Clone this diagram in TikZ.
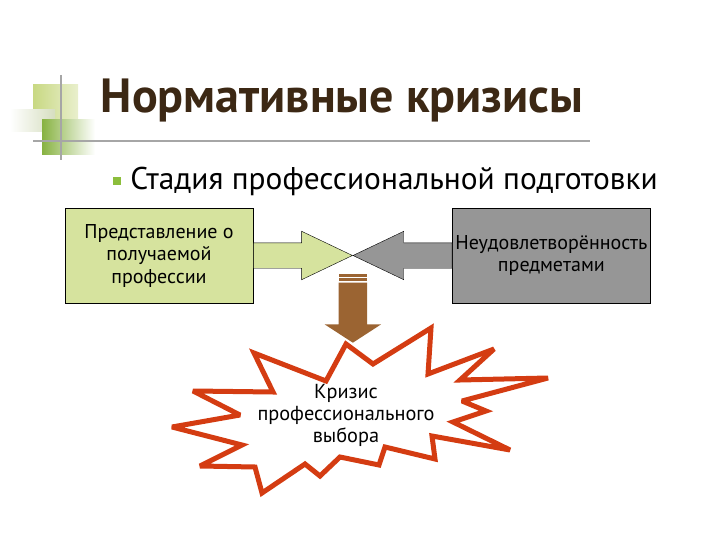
\documentclass[tikz,border=0pt]{standalone}
\usepackage{fontspec}
\setmainfont{PT Sans}
\usetikzlibrary{positioning,shapes.arrows}

\definecolor{titlebrown}{RGB}{60,40,20}
\definecolor{boxgreen}{RGB}{214,227,158}
\definecolor{boxgray}{RGB}{150,150,150}
\definecolor{dropbrown}{RGB}{155,100,50}
\definecolor{burstred}{RGB}{212,60,18}
\definecolor{bulletgreen}{RGB}{140,190,60}
\definecolor{decolime}{RGB}{200,216,130}
\definecolor{decogreen}{RGB}{135,178,65}
\definecolor{decopale}{RGB}{214,222,192}

\begin{document}
\begin{tikzpicture}[x=1pt,y=-1pt,node distance=8pt]
    \tikzset{box/.style={draw,rectangle,minimum height=95pt,align=center,inner sep=2pt,font=\fontsize{20}{22.5}\selectfont}}
    \tikzset{blockarrow/.style={draw,single arrow,single arrow head extend=11.5pt,single arrow tip angle=51,minimum height=99pt,inner sep=12.5pt}}
    \tikzset{droparrow/.style={fill=dropbrown,single arrow,shape border rotate=270,single arrow head extend=14pt,single arrow tip angle=114,minimum height=60pt,inner sep=14pt}}
    \tikzset{burst/.style={draw=burstred,fill=white,line width=5pt,line join=miter,miter limit=3}}
    \useasboundingbox (0,0) rectangle (720,540);

    % corner decoration
    \shade[left color=decolime,right color=decolime!40] (33,85) rectangle (78,123);
    \shade[left color=white,right color=decopale] (10,110) rectangle (55,132);
    \shade[left color=decogreen,right color=white] (42,120) rectangle (95,155);
    \draw[gray!70,line width=1.5pt] (61,75) -- (61,160);
    \draw[gray!70,line width=1.5pt] (33,141) -- (590,141);

    \node[text=titlebrown,font=\fontsize{48}{52}\bfseries\selectfont] (title) at (342,101) {Нормативные кризисы};
    \node[fill=bulletgreen,minimum size=8pt,inner sep=0pt] (dot) at (117,181) {};
    \node[inner sep=0pt,font=\fontsize{31.4}{34}\selectfont] (stage) [right=9pt of dot] {Стадия профессиональной подготовки};

    \node[box,fill=boxgreen,minimum width=188pt] (prep) at (159,255.5) {Представление о\\получаемой\\профессии};
    \node[box,fill=boxgray,minimum width=198pt] (dissat) [right=199pt of prep] {Неудовлетворённость\\предметами};

    \node[blockarrow,fill=boxgreen,anchor=tail] (pull) at (prep.east) {};
    \node[blockarrow,fill=boxgray,shape border rotate=180,anchor=tail] (push) at (dissat.west) {};

    % explosion
    \draw[burst] (346,344) -- (373,364) -- (431,328) -- (428,374) -- (494,349) -- (460,380)
        -- (548,378) -- (462,401) -- (486,411) -- (453,422) -- (510,450) -- (432,436)
        -- (435,459) -- (385,447) -- (379,465) -- (340,457) -- (320,476) -- (305,464)
        -- (262,493) -- (255,467) -- (200,466) -- (242,445) -- (172,427) -- (240,415)
        -- (193,391) -- (273,392) -- (254,353) -- (326,381) -- cycle;
    \node[align=center,font=\fontsize{20.3}{22}\selectfont] (crisis) at (346,415) {Кризис\\профессионального\\выбора};

    \node[droparrow,anchor=tail] (drop) at ([yshift=-27pt]pull.tip) {};
    \fill[dropbrown] ([xshift=-14pt,yshift=2pt]drop.tail) rectangle ([xshift=14pt,yshift=4.5pt]drop.tail);
    \fill[dropbrown] ([xshift=-14pt,yshift=6pt]drop.tail) rectangle ([xshift=14pt,yshift=8.5pt]drop.tail);
\end{tikzpicture}
\end{document}
